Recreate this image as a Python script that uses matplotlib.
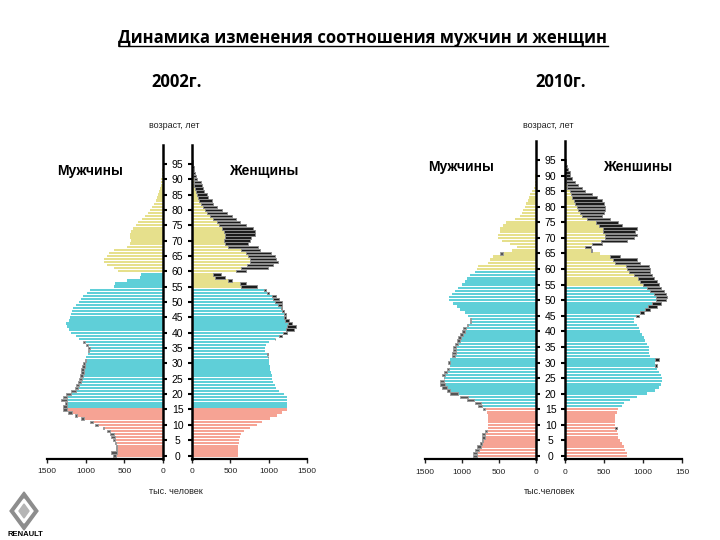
import numpy as np
import matplotlib.pyplot as plt
from matplotlib.patches import Polygon
from matplotlib.lines import Line2D

plt.rcParams['font.family'] = ['Liberation Sans', 'DejaVu Sans']

# single-year ages 0..100, thousands of people
ages = np.arange(101)

men_2002 = [650, 670, 610, 610, 625, 645, 670, 690, 730, 775,
            885, 950, 1055, 1140, 1230, 1290, 1290, 1270, 1315, 1290,
            1250, 1185, 1140, 1120, 1100, 1085, 1075, 1065, 1055, 1045,
            1035, 1010, 990, 975, 970, 970, 990, 1030, 1080, 1130,
            1185, 1220, 1240, 1250, 1210, 1200, 1195, 1180, 1160, 1120,
            1080, 1060, 1040, 980, 940, 640, 620, 470, 300, 280,
            580, 640, 720, 760, 760, 730, 700, 640, 470, 430,
            420, 425, 430, 420, 390, 350, 320, 270, 230, 190,
            165, 140, 120, 95, 75, 60, 50, 40, 30, 25,
            20, 15, 10, 8, 6, 5, 4, 3, 2, 1, 1]

women_2002 = [605, 600, 595, 600, 610, 615, 625, 640, 680, 760,
              845, 910, 1020, 1110, 1175, 1240, 1245, 1240, 1245, 1240,
              1195, 1130, 1095, 1080, 1055, 1045, 1040, 1025, 1020, 1015,
              1005, 1000, 995, 990, 955, 950, 965, 1010, 1085, 1175,
              1240, 1325, 1350, 1305, 1265, 1225, 1220, 1200, 1180, 1175,
              1170, 1130, 1090, 1000, 960, 850, 700, 520, 430, 380,
              710, 990, 1055, 1120, 1100, 1080, 1035, 885, 860, 735,
              755, 775, 820, 820, 800, 710, 625, 580, 517, 450,
              390, 325, 280, 255, 215, 190, 160, 145, 135, 120,
              65, 55, 45, 30, 20, 12, 8, 6, 4, 3, 2]

men_2010 = [845, 845, 825, 800, 755, 735, 735, 735, 690, 645,
            645, 645, 645, 645, 665, 710, 780, 825, 935, 1025,
            1160, 1205, 1275, 1295, 1295, 1250, 1275, 1250, 1205, 1160,
            1185, 1160, 1140, 1140, 1115, 1115, 1095, 1070, 1050, 1025,
            1005, 980, 935, 890, 890, 915, 960, 1025, 1070, 1115,
            1170, 1170, 1140, 1095, 1050, 1005, 960, 935, 890, 825,
            800, 780, 645, 620, 575, 485, 330, 260, 350, 465,
            510, 510, 485, 485, 440, 400, 285, 215, 190, 170,
            150, 130, 110, 90, 75, 60, 30, 20, 15, 10,
            7, 5, 4, 3, 2, 2, 1, 1, 1, 1, 1]

women_2010 = [795, 795, 770, 750, 730, 710, 685, 685, 665, 665,
              645, 645, 645, 645, 665, 685, 730, 750, 835, 920,
              1050, 1160, 1200, 1225, 1245, 1245, 1225, 1200, 1180, 1180,
              1160, 1200, 1095, 1075, 1075, 1075, 1050, 1030, 1010, 985,
              965, 945, 920, 880, 880, 945, 1010, 1095, 1180, 1225,
              1290, 1310, 1290, 1265, 1225, 1200, 1180, 1140, 1115, 1095,
              1090, 1080, 960, 920, 705, 450, 340, 330, 470, 790,
              880, 920, 900, 920, 730, 685, 580, 470, 495, 515,
              515, 495, 470, 410, 345, 260, 215, 170, 130, 85,
              65, 65, 40, 25, 15, 10, 6, 4, 3, 2, 1]

age_ticks = list(range(0, 100, 5))
x_ticks = [0, 500, 1000, 1500]

YELLOW = '#E6E08C'
TEAL = '#5FCFD8'
SALMON = '#F6A394'


def group_colors(retire_age):
    return [SALMON if a < 16 else TEAL if a < retire_age else YELLOW for a in ages]


def draw_pyramid(ax_m, ax_w, men, women, last_label):
    men = np.array(men, float)
    women = np.array(women, float)
    common = np.minimum(men, women)
    h = 0.78

    ax_m.barh(ages, common, height=h, color=group_colors(60), lw=0)
    ax_w.barh(ages, common, height=h, color=group_colors(55), lw=0)

    # excess of one sex over the other
    m_ex = men - common
    sel = m_ex > 0
    ax_m.barh(ages[sel], m_ex[sel], left=common[sel], height=h,
              color='#555555', edgecolor='#9a9a9a', lw=0.7)
    w_ex = women - common
    sel = w_ex > 0
    ax_w.barh(ages[sel], w_ex[sel], left=common[sel], height=h,
              color='#1c1c1c', edgecolor='#8c8c8c', lw=0.7)

    ax_m.set_xlim(1500, 0)
    ax_w.set_xlim(0, 1500)
    for ax in (ax_m, ax_w):
        ax.set_ylim(-1, 101)
        ax.set_xticks(x_ticks)
        ax.tick_params(axis='x', length=3, width=1, labelsize=6, colors='#222222', pad=4)
        ax.spines['top'].set_visible(False)
        ax.spines['bottom'].set_linewidth(1.6)
    ax_w.set_xticklabels(['0', '500', '1000', last_label])

    ax_m.spines['left'].set_visible(False)
    ax_m.spines['right'].set_linewidth(1.8)
    ax_m.yaxis.tick_right()
    ax_m.set_yticks(age_ticks)
    ax_m.tick_params(axis='y', length=3, width=1.5, labelright=False)

    ax_w.spines['right'].set_visible(False)
    ax_w.spines['left'].set_linewidth(1.8)
    ax_w.set_yticks(age_ticks)
    ax_w.tick_params(axis='y', length=3, width=1.5, labelsize=7.5, pad=7.4)
    for lab in ax_w.get_yticklabels():
        lab.set_horizontalalignment('center')


def px(x, y):
    return x / 720, 1 - y / 540


fig = plt.figure(figsize=(7.2, 5.4), dpi=100)

ax_m02 = fig.add_axes([47 / 720, 1 - 458.6 / 540, 116 / 720, 313.2 / 540])
ax_w02 = fig.add_axes([192 / 720, 1 - 458.6 / 540, 115 / 720, 313.2 / 540])
ax_m10 = fig.add_axes([425 / 720, 1 - 459.1 / 540, 111 / 720, 317.8 / 540])
ax_w10 = fig.add_axes([565 / 720, 1 - 459.1 / 540, 117 / 720, 317.8 / 540])

draw_pyramid(ax_m02, ax_w02, men_2002, women_2002, '1500')
draw_pyramid(ax_m10, ax_w10, men_2010, women_2010, '150')

title = fig.text(*px(363, 38), 'Динамика изменения соотношения мужчин и женщин',
                 ha='center', va='center', fontsize=12, fontweight='bold',
                 family=['Open Sans', 'DejaVu Sans'])
fig.text(*px(177, 82), '2002г.', ha='center', va='center', fontsize=12,
         fontweight='bold', family=['Open Sans', 'DejaVu Sans'])
fig.text(*px(561, 82), '2010г.', ha='center', va='center', fontsize=12,
         fontweight='bold', family=['Open Sans', 'DejaVu Sans'])

for x, label in [(174, 'возраст, лет'), (548, 'возраст, лет')]:
    fig.text(*px(x, 125), label, ha='center', va='center', fontsize=6.5, color='#222222')
for x, label in [(176, 'тыс. человек'), (550, 'тыс.человек')]:
    fig.text(*px(x, 491), label, ha='center', va='center', fontsize=6.5, color='#222222')

fig.text(*px(90, 171), 'Мужчины', ha='center', va='center', fontsize=10, fontweight='bold')
fig.text(*px(265, 171), 'Женщины', ha='center', va='center', fontsize=10, fontweight='bold')
fig.text(*px(461, 167), 'Мужчины', ha='center', va='center', fontsize=10, fontweight='bold')
fig.text(*px(639, 167), 'Женшины', ha='center', va='center', fontsize=10, fontweight='bold')

# underline for the title
fig.canvas.draw()
bb = title.get_window_extent(fig.canvas.get_renderer())
W, H = fig.bbox.width, fig.bbox.height
fig.add_artist(Line2D([bb.x0 / W, bb.x1 / W], [(bb.y0 + 1) / H] * 2,
                      transform=fig.transFigure, color='black', lw=1))

# simple logo in the corner
outer = [px(24, 492), px(38, 511), px(24, 530), px(10, 511)]
inner = [px(24, 499), px(33, 511), px(24, 523), px(15, 511)]
core = [px(24, 504), px(29, 511), px(24, 518), px(19, 511)]
fig.add_artist(Polygon(outer, closed=True, transform=fig.transFigure, color='#8d8d8d'))
fig.add_artist(Polygon(inner, closed=True, transform=fig.transFigure, color='white'))
fig.add_artist(Polygon(core, closed=True, transform=fig.transFigure, color='#b5b5b5'))
fig.text(*px(25, 535), 'RENAULT', ha='center', va='center', fontsize=5.5, fontweight='bold')

fig.savefig('out.png', dpi=100)
